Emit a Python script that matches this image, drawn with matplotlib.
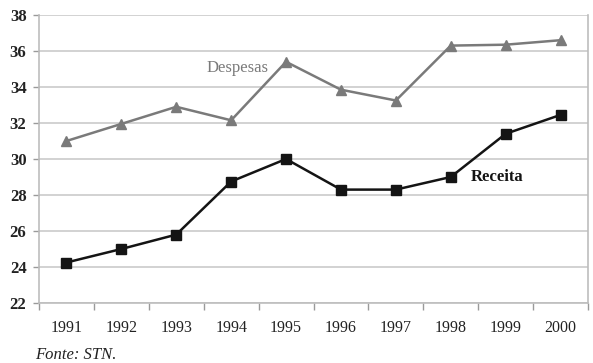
import matplotlib
matplotlib.use("Agg")
import matplotlib.pyplot as plt
import numpy as np

years = ["1991", "1992", "1993", "1994", "1995", "1996", "1997", "1998", "1999", "2000"]
despesas = [31.0, 31.95, 32.9, 32.15, 35.4, 33.85, 33.25, 36.3, 36.35, 36.6]
receita = [24.25, 25.0, 25.8, 28.75, 30.0, 28.3, 28.3, 29.0, 31.4, 32.45]
y_ticks = [22, 24, 26, 28, 30, 32, 34, 36, 38]

plt.rcParams["font.family"] = ["Liberation Serif", "DejaVu Serif"]

fig = plt.figure(figsize=(5.93, 3.63), dpi=100)
ax = fig.add_axes([39 / 593, 1 - 303 / 363, (588 - 39) / 593, (303 - 15) / 363])

x = np.arange(len(years)) + 0.5
ax.plot(x, despesas, color="#7a7a7a", lw=1.8, marker="^", ms=6.5,
        markerfacecolor="#7a7a7a", markeredgecolor="#7a7a7a", zorder=3)
ax.plot(x, receita, color="#141414", lw=1.8, marker="s", ms=6.5,
        markerfacecolor="#141414", markeredgecolor="#141414", zorder=3)

ax.set_xlim(0, len(years))
ax.set_ylim(22, 38)
ax.set_yticks(y_ticks)
ax.set_yticklabels([str(t) for t in y_ticks], fontsize=12, fontweight="bold", color="#222222")
ax.set_xticks(np.arange(len(years) + 1))
ax.set_xticklabels([])
ax.set_xticks(x, minor=True)
ax.set_xticklabels(years, minor=True, fontsize=11.5, color="#222222")
ax.tick_params(axis="x", which="major", length=5, direction="out", color="#9a9a9a", width=1)
ax.tick_params(axis="x", which="minor", length=0, pad=12)
ax.tick_params(axis="y", length=4, direction="out", color="#9a9a9a", width=1, pad=5)

ax.grid(axis="y", color="#cfcfcf", lw=1.3)
ax.set_axisbelow(True)
for side in ["left", "bottom", "right"]:
    ax.spines[side].set_color("#bdbdbd")
    ax.spines[side].set_linewidth(1.2)
ax.spines["top"].set_visible(False)

ax.text(3.62, 35.05, "Despesas", color="#7a7a7a", fontsize=12, ha="center", va="center")
ax.text(8.34, 29.0, "Receita", color="#141414", fontsize=12, fontweight="bold",
        ha="center", va="center")

fig.text(35 / 593, 1 - 355 / 363, "Fonte: STN.", fontsize=12, fontstyle="italic",
         color="#222222", ha="left", va="center")

fig.savefig("out.png", dpi=100, facecolor="white")
